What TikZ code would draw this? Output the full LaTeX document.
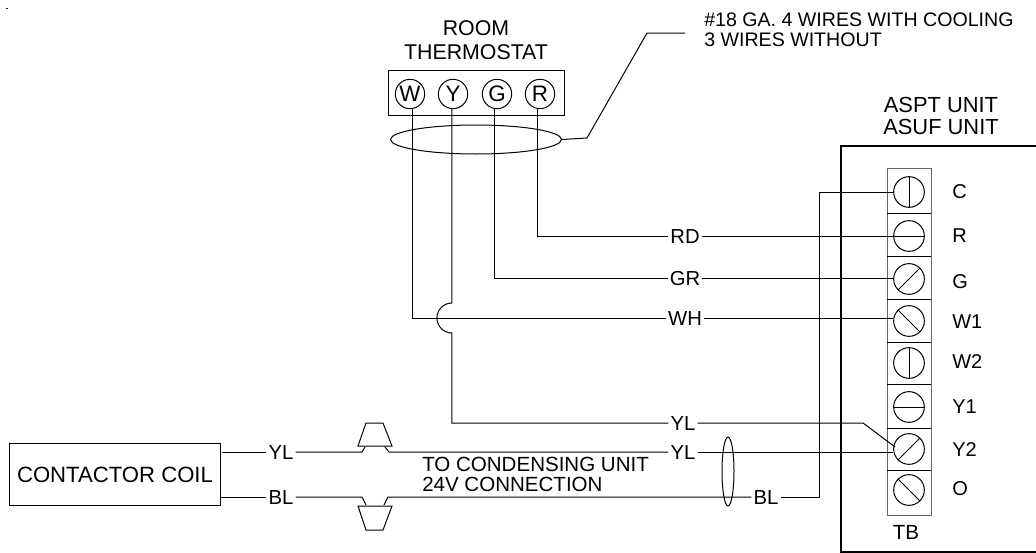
\documentclass[tikz,border=0pt]{standalone}
\usepackage{fontspec}
\setmainfont{Liberation Sans}
\usetikzlibrary{shapes.geometric}
\tikzset{
  wire/.style={line width=0.75pt},
  lbl/.style 2 args={inner sep=0pt,font=\fontsize{#1}{#2}\selectfont},
  wirelbl/.style={lbl={15.2}{15},inner xsep=1.5pt,text height=11pt,text depth=0pt},
  dial/.style={draw,circle,line width=0.75pt,inner sep=0pt,minimum size=22pt,font=\fontsize{16.8}{16.8}\selectfont},
  screw/.style={draw,circle,line width=0.75pt,inner sep=0pt,minimum size=23pt},
}
\begin{document}
\begin{tikzpicture}[x=0.75pt,y=0.75pt,yscale=-1]
\useasboundingbox (0,0) rectangle (1036,553);

\fill (6,7.5) rectangle (8,8.5);

% Thermostat
\node [lbl={16}{18},align=center] (titleRoom) at (476,40) {ROOM\\THERMOSTAT};
\node [draw,line width=0.75pt,minimum width=132pt,minimum height=33.75pt,inner sep=0pt] (boxStat) at (476,92.5) {};
\node [dial] (statW) at (410,94) {W};
\node [dial] (statY) at (453,94) {Y};
\node [dial] (statG) at (497,94) {G};
\node [dial] (statR) at (540,94) {R};

% Bundle and its note
\node [draw,ellipse,line width=0.75pt,minimum width=128.25pt,minimum height=21.75pt,inner sep=0pt] (bundleTop) at (476,139.5) {};
\coordinate (noteA) at (587,138);
\coordinate (noteB) at (647,33);
\coordinate (noteC) at (685,33);
\node [lbl={14.7}{15},align=left,anchor=west] (noteTxt) at (704,29.5) {\#18 GA. 4 WIRES WITH COOLING\\3 WIRES WITHOUT};
\draw [wire] (bundleTop.east) -- (noteA) -- (noteB) -- (noteC);

% Unit frame
\draw [line width=1.6pt] (1036,146) -- (841,146) -- (841,552);
\draw [line width=1.1pt] (840,552) -- (1036,552);
\node [lbl={16.4}{16.5},align=center] (titleUnit) at (941,116) {ASPT UNIT\\ASUF UNIT};

% Terminal block
\draw [wire,gray!80!black] (887,168) rectangle (931,515);
\foreach \yy in {213,256,299,342,384,428,470}
  \draw [wire] (887,\yy) -- (931,\yy);
\foreach \name/\yy/\angA/\angB/\txt/\ty in {C/192/90/270/C/192,R/236/0/180/R/236,G/279/45/225/G/282,Wa/321/135/315/W1/322,Wb/363/90/270/W2/362,Ya/407/0/180/Y1/407,Yb/449/45/225/Y2/450,O/490/135/315/O/489}{
  \node [screw] (scr\name) at (909,\yy) {};
  \draw [wire] (scr\name.\angA) -- (scr\name.\angB);
  \node [lbl={15}{15},anchor=west] (txt\name) at (952,\ty) {\txt};
}
\node [lbl={15.4}{15}] (txtTB) at (906,532) {TB};

% Contactor
\node [draw,line width=0.75pt,lbl={16.6}{16.6},minimum width=158.25pt,minimum height=46pt] (coil) at (115,474.5) {CONTACTOR COIL};

% Wire labels
\node [wirelbl] (lblRD) at (685,236) {RD};
\node [wirelbl] (lblGR) at (685,278) {GR};
\node [wirelbl] (lblWH) at (685,318) {WH};
\node [wirelbl] (lblYLa) at (683,423) {YL};
\node [wirelbl] (lblYLb) at (683,452) {YL};
\node [wirelbl] (lblBLb) at (766,497) {BL};
\node [wirelbl] (lblYLc) at (281,452) {YL};
\node [wirelbl] (lblBLa) at (281,497) {BL};
\node [lbl={15.4}{15},align=left,anchor=west] (txtCond) at (422,474) {TO CONDENSING UNIT\\24V CONNECTION};

% Wires from the thermostat
\draw [wire] (statR.-101) |- (lblRD.west);
\draw [wire] (lblRD.east) -- (lblRD.east -| scrR.west);
\draw [wire] (statG.-98) |- (lblGR.west);
\draw [wire] (lblGR.east) -- (lblGR.east -| scrG.west);
\draw [wire] (statW.-82) |- (lblWH.west);
\draw [wire] (lblWH.east) -- (lblWH.east -| scrWa.west);

\coordinate (hopTop) at (statY.-94 |- 0,303);
\draw [wire] (statY.-94) -- (hopTop) arc (270:90:15) |- (lblYLa.west);
\coordinate (bendY) at (863,423);
\coordinate (endY) at (895,447);
\draw [wire] (lblYLa.east) -- (bendY) -- (endY);

% Wires to the condensing unit
\draw [wire] ([xshift=1pt]coil.east |- lblYLc) -- (lblYLc.west);
\draw [wire] (coil.east |- lblBLa) -- (lblBLa.west);
\coordinate (plugA) at (362,452);
\coordinate (plugB) at (365,447);
\coordinate (plugC) at (385,447);
\coordinate (plugD) at (389,452);
\coordinate (plugE) at (362,497);
\coordinate (plugF) at (366,505);
\coordinate (plugG) at (384,505);
\coordinate (plugH) at (388,497);
\draw [wire] (lblYLc.east) -- (plugA) -- (plugB);
\draw [wire] (plugC) -- (plugD) -- (lblYLb.west);
\draw [wire] (lblBLa.east) -- (plugE) -- (plugF);
\draw [wire] (plugG) -- (plugH) -- (lblBLb.west);
\draw [wire] (358,446) -- (366,423) -- (383,423) -- (392,446) -- cycle;
\draw [wire] (358,506) -- (366,530) -- (383,530) -- (392,506) -- cycle;
\draw [wire] (lblYLb.east) -- (lblYLb.east -| scrYb.190);

\node [draw,ellipse,line width=0.75pt,minimum width=9pt,minimum height=51.75pt,inner sep=0pt] (bundleLow) at (728,471.5) {};

\coordinate (bendC) at (819,497);
\draw [wire] (scrC.west) -| (bendC) -- (lblBLb.east);
\end{tikzpicture}
\end{document}
